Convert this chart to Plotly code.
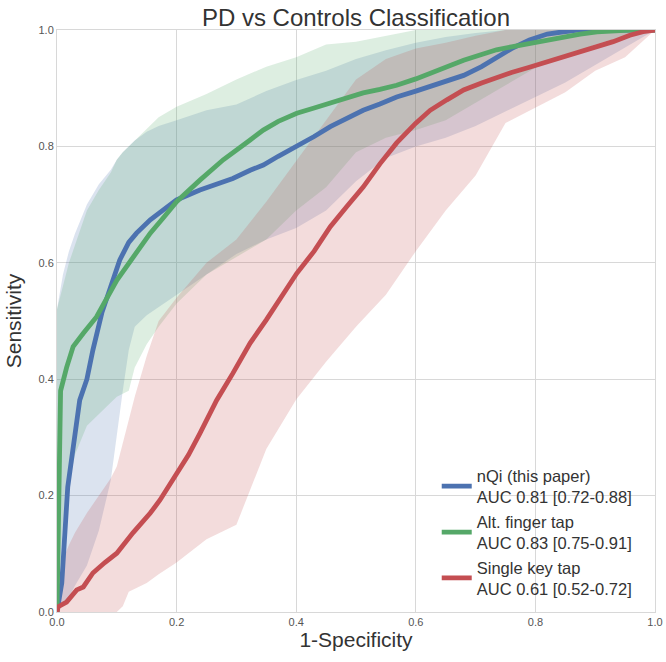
import plotly.graph_objects as go

# ---- data ----
band_x = [0, 0.01, 0.02, 0.03, 0.05, 0.07, 0.09, 0.1, 0.11, 0.12, 0.13, 0.15, 0.17, 0.2, 0.25,
          0.3, 0.35, 0.4, 0.45, 0.5, 0.55, 0.6, 0.65, 0.7, 0.75, 0.8, 0.85, 0.9, 0.95, 1.0]

nqi_upper = [0.52, 0.58, 0.62, 0.65, 0.70, 0.735, 0.76, 0.777, 0.79, 0.80, 0.81, 0.825, 0.835, 0.845, 0.862,
             0.872, 0.895, 0.914, 0.93, 0.95, 0.965, 0.978, 0.988, 0.995, 1, 1, 1, 1, 1, 1]
nqi_lower = [0, 0.012, 0.025, 0.045, 0.08, 0.14, 0.227, 0.30, 0.38, 0.45, 0.49, 0.51, 0.525, 0.545, 0.58,
             0.615, 0.64, 0.66, 0.69, 0.74, 0.78, 0.80, 0.815, 0.835, 0.86, 0.885, 0.91, 0.94, 0.97, 1]

alt_upper = [0.52, 0.56, 0.60, 0.63, 0.69, 0.725, 0.755, 0.777, 0.79, 0.80, 0.81, 0.83, 0.85, 0.868, 0.89,
             0.915, 0.937, 0.953, 0.975, 0.98, 0.99, 1, 1, 1, 1, 1, 1, 1, 1, 1]
alt_lower = [0, 0.15, 0.22, 0.27, 0.32, 0.34, 0.36, 0.37, 0.375, 0.38, 0.42, 0.46, 0.49, 0.53, 0.58,
             0.61, 0.64, 0.69, 0.73, 0.79, 0.815, 0.828, 0.845, 0.875, 0.905, 0.935, 0.955, 0.975, 0.99, 1]

single_upper = [0.03, 0.09, 0.115, 0.136, 0.17, 0.20, 0.23, 0.25, 0.29, 0.33, 0.37, 0.44, 0.50, 0.54, 0.60,
                0.64, 0.705, 0.775, 0.845, 0.915, 0.95, 0.968, 0.978, 0.99, 1, 1, 1, 1, 1, 1]
single_lower = [0, 0, 0, 0, 0, 0, 0, 0, 0.01, 0.035, 0.04, 0.05, 0.065, 0.085, 0.125,
                0.15, 0.28, 0.365, 0.43, 0.49, 0.545, 0.62, 0.69, 0.75, 0.84, 0.866, 0.893, 0.93, 0.953, 1]

nqi_x = [0, 0.005, 0.008, 0.018, 0.03, 0.038, 0.05, 0.06, 0.075, 0.09, 0.105, 0.12, 0.133, 0.156, 0.18,
         0.2, 0.239, 0.27, 0.294, 0.323, 0.345, 0.37, 0.401, 0.43, 0.457, 0.485, 0.512, 0.54, 0.568,
         0.6, 0.624, 0.652, 0.68, 0.71, 0.735, 0.76, 0.79, 0.82, 0.847, 0.87, 1.0]
nqi_y = [0, 0.03, 0.05, 0.215, 0.30, 0.364, 0.40, 0.45, 0.514, 0.56, 0.605, 0.635, 0.651, 0.674, 0.692,
         0.708, 0.725, 0.737, 0.745, 0.759, 0.768, 0.783, 0.80, 0.817, 0.834, 0.849, 0.862, 0.873, 0.885,
         0.895, 0.903, 0.912, 0.922, 0.937, 0.953, 0.968, 0.983, 0.993, 0.997, 1.0, 1.0]

alt_x = [0, 0.003, 0.006, 0.016, 0.027, 0.044, 0.066, 0.1, 0.13, 0.156, 0.18, 0.2, 0.239, 0.278, 0.323,
         0.345, 0.37, 0.401, 0.43, 0.457, 0.485, 0.512, 0.54, 0.568, 0.6, 0.624, 0.652, 0.68, 0.71,
         0.735, 0.76, 0.79, 0.82, 0.847, 0.875, 0.903, 0.93, 0.958, 1.0]
alt_y = [0, 0.2, 0.38, 0.42, 0.456, 0.479, 0.507, 0.57, 0.612, 0.651, 0.68, 0.705, 0.742, 0.777, 0.811,
         0.828, 0.843, 0.857, 0.866, 0.874, 0.883, 0.892, 0.898, 0.905, 0.916, 0.926, 0.936, 0.948, 0.958,
         0.966, 0.971, 0.977, 0.983, 0.988, 0.993, 0.997, 0.999, 1.0, 1.0]

single_x = [0, 0.002, 0.016, 0.025, 0.033, 0.044, 0.06, 0.08, 0.1, 0.127, 0.156, 0.172, 0.2, 0.22, 0.239,
            0.267, 0.294, 0.323, 0.35, 0.375, 0.401, 0.43, 0.457, 0.485, 0.512, 0.54, 0.568, 0.6, 0.624,
            0.652, 0.68, 0.71, 0.735, 0.76, 0.79, 0.82, 0.847, 0.875, 0.903, 0.93, 0.958, 0.98, 1.0]
single_y = [0, 0.009, 0.017, 0.03, 0.038, 0.043, 0.067, 0.085, 0.101, 0.136, 0.17, 0.192, 0.239, 0.27, 0.307,
            0.364, 0.41, 0.462, 0.502, 0.54, 0.582, 0.62, 0.662, 0.697, 0.73, 0.77, 0.806, 0.84, 0.862,
            0.88, 0.897, 0.909, 0.919, 0.927, 0.936, 0.945, 0.953, 0.962, 0.971, 0.98, 0.991, 0.997, 1.0]

labels = ["nQi (this paper)<br>AUC 0.81 [0.72-0.88]",
          "Alt. finger tap<br>AUC 0.83 [0.75-0.91]",
          "Single key tap<br>AUC 0.61 [0.52-0.72]"]
tick_vals = [0.0, 0.2, 0.4, 0.6, 0.8, 1.0]
tick_text = ["0.0", "0.2", "0.4", "0.6", "0.8", "1.0"]

colors = ["#4C72B0", "#55A868", "#C44E52"]
fills = ["rgba(76,114,176,0.2)", "rgba(85,168,104,0.2)", "rgba(196,78,82,0.2)"]

series = [
    (nqi_x, nqi_y, nqi_lower, nqi_upper),
    (alt_x, alt_y, alt_lower, alt_upper),
    (single_x, single_y, single_lower, single_upper),
]

fig = go.Figure()
for (sx, sy, lo, up), fc in zip(series, fills):
    fig.add_trace(go.Scatter(
        x=band_x + band_x[::-1], y=up + lo[::-1],
        fill="toself", fillcolor=fc, line=dict(width=0), mode="lines",
        showlegend=False, hoverinfo="skip"))
for (sx, sy, lo, up), c, lab in zip(series, colors, labels):
    fig.add_trace(go.Scatter(
        x=sx, y=sy, mode="lines", name=lab,
        line=dict(color=c, width=4.8), hoverinfo="skip"))

axis_common = dict(
    range=[0, 1], tickvals=tick_vals, ticktext=tick_text,
    showgrid=True, gridcolor="#d8d8d8", gridwidth=1,
    showline=True, linecolor="#d8d8d8", linewidth=1, mirror=True,
    zeroline=False, ticks="", tickfont=dict(size=11, color="#555555"),
    automargin=False,
)

fig.update_layout(
    width=666, height=662,
    margin=dict(l=57, r=11, t=30, b=50, autoexpand=False),
    paper_bgcolor="white", plot_bgcolor="white",
    font=dict(family="Liberation Sans, Arial, sans-serif", color="#333333"),
    title=dict(text="PD vs Controls Classification", x=(57 + 655) / 2 / 666, xanchor="center",
               y=1 - 18 / 662, yanchor="middle", automargin=False,
               font=dict(size=24, color="#333333")),
    xaxis=dict(**axis_common, title=dict(text="1-Specificity", font=dict(size=21), standoff=4)),
    yaxis=dict(**axis_common, title=dict(text="Sensitivity", font=dict(size=21), standoff=11)),
    legend=dict(x=0.635, y=0.01, xanchor="left", yanchor="bottom",
                bgcolor="rgba(0,0,0,0)", font=dict(size=16.5, color="#333333"),
                itemwidth=30),
    hovermode=False,
)

fig.write_html("out.html", config={"displayModeBar": False},
               post_script="document.body.style.margin='0';")
